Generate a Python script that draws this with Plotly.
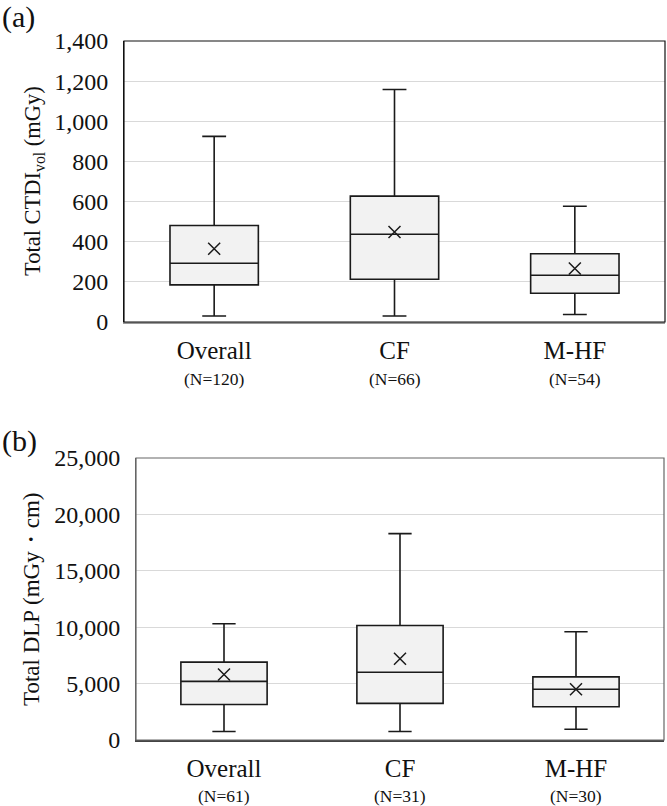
import plotly.graph_objects as go

# ---------------- data ----------------
categories = ["Overall", "CF", "M-HF"]

# (a) Total CTDIvol (mGy)
a_n = [120, 66, 54]
a_lower = [30, 30, 37]
a_q1 = [185, 213, 143]
a_median = [293, 437, 233]
a_q3 = [481, 627, 340]
a_upper = [925, 1158, 577]
a_mean = [365, 448, 267]
a_ticks = [0, 200, 400, 600, 800, 1000, 1200, 1400]

# (b) Total DLP (mGy·cm)
b_n = [61, 31, 30]
b_lower = [750, 750, 950]
b_q1 = [3150, 3250, 2950]
b_median = [5200, 6000, 4500]
b_q3 = [6900, 10150, 5600]
b_upper = [10300, 18300, 9600]
b_mean = [5800, 7200, 4500]
b_ticks = [0, 5000, 10000, 15000, 20000, 25000]

FONT = "Liberation Serif, Times New Roman, serif"
W, H = 667, 806

fig = go.Figure()

def add_panel(xa, ya, lower, q1, med, q3, upper, mean):
    fig.add_trace(go.Box(
        x=categories, q1=q1, median=med, q3=q3,
        lowerfence=lower, upperfence=upper,
        xaxis=xa, yaxis=ya,
        fillcolor="#f2f2f2", line=dict(color="#1a1a1a", width=1.6),
        whiskerwidth=0.27, width=0.49, boxpoints=False,
        showlegend=False, hoverinfo="skip",
    ))
    fig.add_trace(go.Scatter(
        x=categories, y=mean, mode="markers", xaxis=xa, yaxis=ya,
        marker=dict(symbol="x-thin", size=12, line=dict(color="#1a1a1a", width=1.5)),
        showlegend=False, hoverinfo="skip",
    ))

add_panel("x", "y", a_lower, a_q1, a_median, a_q3, a_upper, a_mean)
add_panel("x2", "y2", b_lower, b_q1, b_median, b_q3, b_upper, b_mean)

def px_x(p):
    return p / W

def px_y(p):
    return 1 - p / H

tick_font = dict(family=FONT, size=24, color="#111")
cat_font = dict(family=FONT, size=25, color="#111")

fig.update_layout(
    width=W, height=H,
    margin=dict(l=0, r=0, t=0, b=0, autoexpand=False),
    paper_bgcolor="white", plot_bgcolor="white",
    font=dict(family=FONT, color="#111"),
    xaxis=dict(domain=[px_x(124), px_x(665)], anchor="y", type="category",
               showgrid=False, showline=True, linecolor="#999", linewidth=2,
               tickfont=cat_font, ticks="", ticklabelstandoff=5,
               range=[-0.5, 2.5], automargin=False),
    yaxis=dict(domain=[px_y(322), px_y(41)], anchor="x",
               range=[0, 1400], tickvals=a_ticks, tickformat=",d",
               showgrid=True, gridcolor="#d9d9d9", gridwidth=1,
               showline=True, linecolor="#111", linewidth=1, zeroline=False,
               tickfont=tick_font, ticks="", ticklabelstandoff=10, automargin=False),
    xaxis2=dict(domain=[px_x(136), px_x(664)], anchor="y2", type="category",
                showgrid=False, showline=True, linecolor="#444", linewidth=1.5,
                tickfont=cat_font, ticks="", ticklabelstandoff=5,
                range=[-0.5, 2.5], automargin=False),
    yaxis2=dict(domain=[px_y(740), px_y(458)], anchor="x2",
                range=[0, 25000], tickvals=b_ticks, tickformat=",d",
                showgrid=True, gridcolor="#d9d9d9", gridwidth=1,
                showline=True, linecolor="#666", linewidth=1, zeroline=False,
                tickfont=tick_font, ticks="", ticklabelstandoff=10, automargin=False),
)

# plot frames
fig.add_shape(type="rect", xref="x domain", yref="y domain", x0=0, x1=1, y0=0, y1=1,
              line=dict(color="#111", width=1.2), layer="above")
fig.add_shape(type="rect", xref="x2 domain", yref="y2 domain", x0=0, x1=1, y0=0, y1=1,
              line=dict(color="#666", width=1.2), layer="above")

ann = []
# panel labels
ann.append(dict(text="(a)", x=0, y=px_y(17), xref="paper", yref="paper",
                xanchor="left", yanchor="middle", showarrow=False,
                font=dict(family=FONT, size=30, color="#111")))
ann.append(dict(text="(b)", x=0, y=px_y(441), xref="paper", yref="paper",
                xanchor="left", yanchor="middle", showarrow=False,
                font=dict(family=FONT, size=30, color="#111")))
# y titles
ann.append(dict(text="Total CTDI<sub>vol</sub> (mGy)", x=px_x(34), y=px_y(181),
                xref="paper", yref="paper", textangle=-90, showarrow=False,
                xanchor="center", yanchor="middle",
                font=dict(family=FONT, size=22.5, color="#111")))
ann.append(dict(text="Total DLP (mGy\u30fbcm)", x=px_x(31), y=px_y(600),
                xref="paper", yref="paper", textangle=-90, showarrow=False,
                xanchor="center", yanchor="middle",
                font=dict(family=FONT, size=23, color="#111")))
# N labels
for c, n in zip(categories, a_n):
    ann.append(dict(text=f"(N={n})", x=c, y=px_y(379), xref="x", yref="paper",
                    showarrow=False, xanchor="center", yanchor="middle",
                    font=dict(family=FONT, size=17.5, color="#111")))
for c, n in zip(categories, b_n):
    ann.append(dict(text=f"(N={n})", x=c, y=px_y(796), xref="x2", yref="paper",
                    showarrow=False, xanchor="center", yanchor="middle",
                    font=dict(family=FONT, size=17.5, color="#111")))
fig.update_layout(annotations=ann)

fig.write_html("out.html")
